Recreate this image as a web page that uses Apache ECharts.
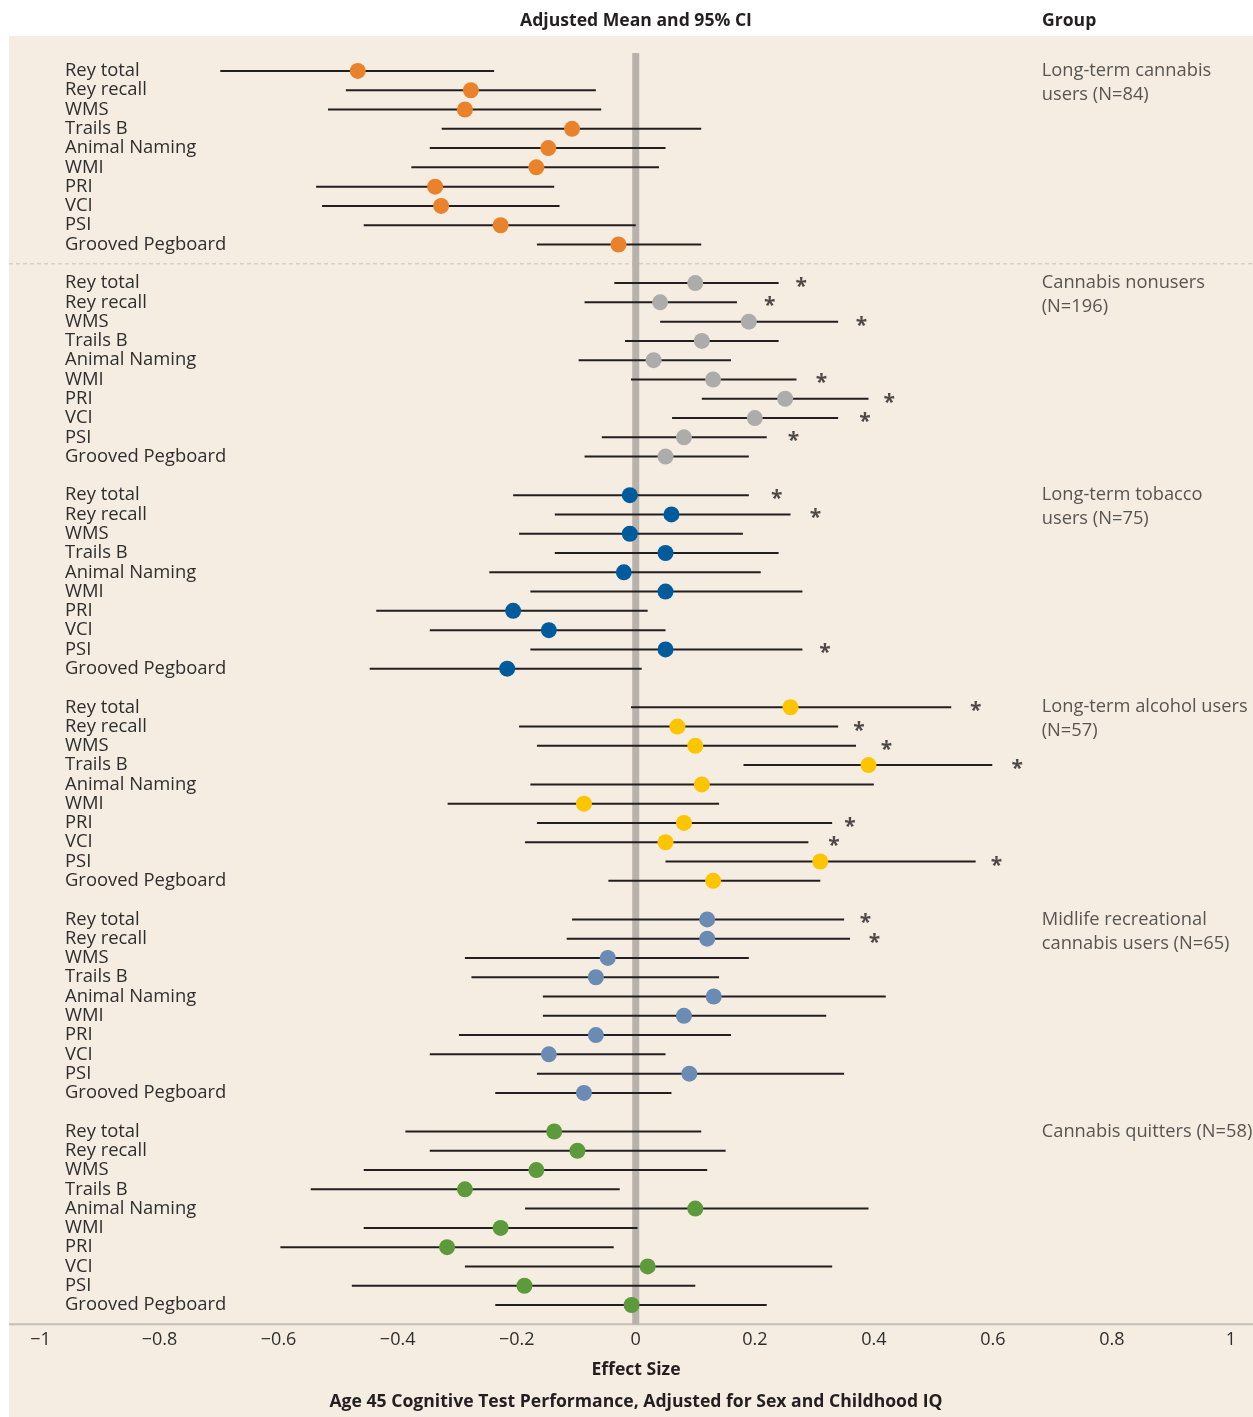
<!DOCTYPE html>
<html>
<head>
<meta charset="utf-8">
<script src="https://cdn.jsdelivr.net/npm/echarts@6/dist/echarts.min.js"></script>
<style>
html,body{margin:0;padding:0;background:#ffffff;}
#chart{width:1253px;height:1417px;}
</style>
</head>
<body>
<div id="chart"></div>
<script>
// ---------- DATA ----------
const tests = ['Rey total','Rey recall','WMS','Trails B','Animal Naming','WMI','PRI','VCI','PSI','Grooved Pegboard'];
const groupNames = [
  'Long-term cannabis\nusers (N=84)',
  'Cannabis nonusers\n(N=196)',
  'Long-term tobacco\nusers (N=75)',
  'Long-term alcohol users\n(N=57)',
  'Midlife recreational\ncannabis users (N=65)',
  'Cannabis quitters (N=58)'
];
const groupColors = ['#e9822b','#aeacab','#005b9d','#fdc400','#6a8cb4','#5c9a3b'];
const xTicks = [-1,-0.8,-0.6,-0.4,-0.2,0,0.2,0.4,0.6,0.8,1];

const cannabisMean = [-0.467,-0.277,-0.287,-0.107,-0.147,-0.167,-0.337,-0.327,-0.227,-0.029];
const cannabisLow  = [-0.698,-0.487,-0.517,-0.326,-0.346,-0.377,-0.537,-0.527,-0.457,-0.166];
const cannabisHigh = [-0.238,-0.067,-0.058,0.110,0.050,0.039,-0.137,-0.128,0.000,0.110];
const cannabisStar = [null,null,null,null,null,null,null,null,null,null];

const nonusersMean = [0.100,0.041,0.190,0.111,0.030,0.130,0.251,0.200,0.081,0.050];
const nonusersLow  = [-0.036,-0.086,0.041,-0.018,-0.096,-0.008,0.111,0.061,-0.057,-0.086];
const nonusersHigh = [0.240,0.170,0.340,0.240,0.160,0.270,0.391,0.340,0.220,0.190];
const nonusersStar = [0.278,0.225,0.379,null,null,0.312,0.426,0.385,0.265,null];

const tobaccoMean = [-0.010,0.060,-0.010,0.050,-0.020,0.050,-0.206,-0.146,0.050,-0.216];
const tobaccoLow  = [-0.206,-0.136,-0.196,-0.136,-0.246,-0.177,-0.436,-0.346,-0.177,-0.447];
const tobaccoHigh = [0.190,0.260,0.180,0.240,0.210,0.280,0.020,0.050,0.280,0.010];
const tobaccoStar = [0.237,0.302,null,null,null,null,null,null,0.318,null];

const alcoholMean = [0.260,0.070,0.100,0.391,0.111,-0.087,0.081,0.050,0.310,0.130];
const alcoholLow  = [-0.008,-0.196,-0.166,0.181,-0.177,-0.316,-0.166,-0.186,0.050,-0.046];
const alcoholHigh = [0.530,0.340,0.370,0.599,0.400,0.140,0.330,0.290,0.571,0.310];
const alcoholStar = [0.571,0.375,0.421,0.641,null,null,0.360,0.333,0.606,null];

const midlifeMean = [0.120,0.120,-0.047,-0.067,0.131,0.081,-0.067,-0.146,0.090,-0.087];
const midlifeLow  = [-0.107,-0.116,-0.287,-0.276,-0.156,-0.156,-0.297,-0.346,-0.166,-0.236];
const midlifeHigh = [0.350,0.360,0.190,0.140,0.420,0.320,0.160,0.050,0.350,0.060];
const midlifeStar = [0.386,0.401,null,null,null,null,null,null,null,null];

const quittersMean = [-0.137,-0.098,-0.167,-0.287,0.100,-0.227,-0.317,0.020,-0.187,-0.007];
const quittersLow  = [-0.387,-0.346,-0.457,-0.546,-0.186,-0.457,-0.597,-0.287,-0.477,-0.236];
const quittersHigh = [0.110,0.151,0.120,-0.027,0.391,0.003,-0.037,0.330,0.100,0.220];
const quittersStar = [null,null,null,null,null,null,null,null,null,null];

const means = [cannabisMean, nonusersMean, tobaccoMean, alcoholMean, midlifeMean, quittersMean];
const lows  = [cannabisLow, nonusersLow, tobaccoLow, alcoholLow, midlifeLow, quittersLow];
const highs = [cannabisHigh, nonusersHigh, tobaccoHigh, alcoholHigh, midlifeHigh, quittersHigh];
const stars = [cannabisStar, nonusersStar, tobaccoStar, alcoholStar, midlifeStar, quittersStar];

// ---------- BUILD ----------
const FONT = '"Open Sans", Lato, "Noto Sans", sans-serif';
const ROWS_PER_GROUP = 11; // 10 tests + 1 gap row
const rowLabel = {};
groupNames.forEach((g, gi) => tests.forEach((t, ti) => { rowLabel[gi * ROWS_PER_GROUP + ti] = t; }));

const ciData = [];
const starData = [];
const series = [];

// zero reference bar
series.push({
  type: 'line', data: [[0, -0.93], [0, 65]], symbol: 'none', silent: true, z: 1,
  lineStyle: { color: '#b8b2ac', width: 7 }
});

groupNames.forEach((g, gi) => {
  const pts = [];
  tests.forEach((t, ti) => {
    const row = gi * ROWS_PER_GROUP + ti;
    ciData.push([lows[gi][ti], highs[gi][ti], row]);
    pts.push([means[gi][ti], row]);
    if (stars[gi][ti] !== null) starData.push([stars[gi][ti], row]);
  });
  series.push({
    type: 'scatter', name: g, data: pts, symbolSize: 16, z: 4,
    itemStyle: { color: groupColors[gi], opacity: 1 }
  });
});

series.push({
  type: 'custom', z: 3, data: ciData,
  encode: { x: [0, 1], y: 2 },
  renderItem: function (params, api) {
    const y = api.value(2);
    const p1 = api.coord([api.value(0), y]);
    const p2 = api.coord([api.value(1), y]);
    return { type: 'line', shape: { x1: p1[0], y1: p1[1], x2: p2[0], y2: p2[1] },
             style: { stroke: '#231f20', lineWidth: 2 } };
  }
});

series.push({
  type: 'scatter', data: starData, symbolSize: 0, z: 5,
  label: { show: true, position: 'inside', formatter: '*', color: '#231f20',
           fontFamily: FONT, fontWeight: 'bold', fontSize: 21, offset: [0, 4] }
});

series.push({
  type: 'scatter', symbolSize: 0, z: 5,
  data: groupNames.map((g, gi) => ({ value: [0.682, gi * ROWS_PER_GROUP], name: g })),
  label: { show: true, position: 'inside', align: 'left', verticalAlign: 'top', offset: [0, -12],
           formatter: p => p.name, color: '#2e2e2e', fontFamily: FONT, fontSize: 18.3, lineHeight: 24 }
});

const chart = echarts.init(document.getElementById('chart'), null, { renderer: 'canvas' });
chart.setOption({
  animation: false,
  backgroundColor: '#ffffff',
  grid: { left: 40.5, right: 22, top: 32.4, bottom: 92.7, containLabel: false },
  xAxis: {
    type: 'value', min: -1, max: 1, interval: 0.2,
    axisLine: { show: false }, axisTick: { show: false }, splitLine: { show: false },
    axisLabel: { fontFamily: FONT, fontSize: 18, color: '#2e2e2e', margin: 7,
      formatter: v => { const m = xTicks.find(t => Math.abs(t - v) < 1e-6); return m === undefined ? '' : String(m).replace('-', '\u2212'); } }
  },
  yAxis: {
    type: 'value', min: -2, max: 65, interval: 1, inverse: true,
    axisLine: { show: false }, axisTick: { show: false }, splitLine: { show: false },
    axisLabel: { fontFamily: FONT, fontSize: 18.4, color: '#2e2e2e', align: 'left', margin: -24.5,
      padding: [3, 0, 0, 0],
      formatter: v => rowLabel[Math.round(v)] || '' }
  },
  series: series
});

const sepY = chart.convertToPixel({ yAxisIndex: 0 }, 10);
const axisY = chart.convertToPixel({ yAxisIndex: 0 }, 65);
chart.setOption({
  graphic: [
    { type: 'rect', z: -10, silent: true, shape: { x: 9, y: 36, width: 1244, height: 1381 }, style: { fill: '#f5ede1' } },
    { type: 'line', z: 0, silent: true, shape: { x1: 9, y1: sepY, x2: 1253, y2: sepY },
      style: { stroke: '#c9c3bc', lineWidth: 1, lineDash: [4, 3] } },
    { type: 'line', z: 0, silent: true, shape: { x1: 9, y1: axisY, x2: 1253, y2: axisY },
      style: { stroke: '#c4beb7', lineWidth: 2 } },
    { type: 'text', z: 10, style: { text: 'Adjusted Mean and 95% CI', x: 636, y: 21, textAlign: 'center', textVerticalAlign: 'middle',
      font: 'bold 17.6px ' + FONT, fill: '#231f20' } },
    { type: 'text', z: 10, style: { text: 'Group', x: 1042, y: 21, textAlign: 'left', textVerticalAlign: 'middle',
      font: 'bold 17.6px ' + FONT, fill: '#231f20' } },
    { type: 'text', z: 10, style: { text: 'Effect Size', x: 636, y: 1370, textAlign: 'center', textVerticalAlign: 'middle',
      font: 'bold 17.6px ' + FONT, fill: '#231f20' } },
    { type: 'text', z: 10, style: { text: 'Age 45 Cognitive Test Performance, Adjusted for Sex and Childhood IQ', x: 636, y: 1402,
      textAlign: 'center', textVerticalAlign: 'middle', font: 'bold 17.6px ' + FONT, fill: '#231f20' } }
  ]
});
</script>
</body>
</html>
